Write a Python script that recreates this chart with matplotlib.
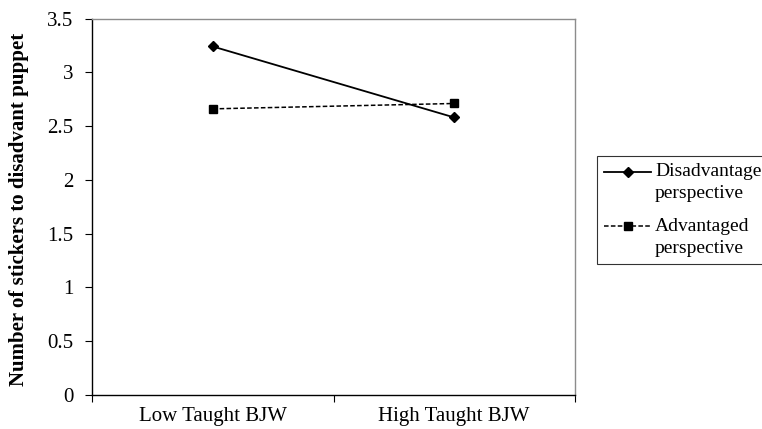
import numpy as np
import matplotlib.pyplot as plt
from matplotlib.legend_handler import HandlerLine2D

# Data
conditions = ['Low Taught BJW', 'High Taught BJW']
disadvantaged = [3.24, 2.58]
advantaged = [2.66, 2.71]
series_labels = ['Disadvantaged\nperspective', 'Advantaged\nperspective']
y_ticks = [0, 0.5, 1, 1.5, 2, 2.5, 3, 3.5]


class FirstLineHandler(HandlerLine2D):
    # put the legend sample level with the first line of a two-line label
    def __init__(self, shift, **kw):
        super().__init__(**kw)
        self.shift = shift

    def create_artists(self, legend, orig_handle, xdescent, ydescent,
                       width, height, fontsize, trans):
        artists = super().create_artists(legend, orig_handle, xdescent, ydescent,
                                         width, height, fontsize, trans)
        for a in artists:
            a.set_ydata(np.asarray(a.get_ydata()) + self.shift)
        return artists


plt.rcParams['font.family'] = ['Liberation Serif', 'DejaVu Serif']

fig = plt.figure(figsize=(7.62, 4.29), dpi=100)
ax = fig.add_axes([92 / 762, 1 - 395 / 429, (575 - 92) / 762, (395 - 18.5) / 429])

x = [0.5, 1.5]
l1, = ax.plot(x, disadvantaged, color='black', linestyle='-', linewidth=1.3,
              marker='D', markersize=5, label=series_labels[0])
l2, = ax.plot(x, advantaged, color='black', linestyle=(0, (3, 1.5)), linewidth=1.1,
              marker='s', markersize=6, label=series_labels[1])

ax.set_xlim(0, 2)
ax.set_ylim(0, 3.5)
ax.set_yticks(y_ticks)
ax.set_yticklabels(['0', '0.5', '1', '1.5', '2', '2.5', '3', '3.5'], fontsize=15)
ax.set_xticks([0, 1, 2])
ax.set_xticklabels([])
ax.set_xticks(x, minor=True)
ax.set_xticklabels(conditions, minor=True, fontsize=15)
ax.tick_params(axis='x', which='minor', length=0, pad=9)
ax.tick_params(axis='x', which='major', direction='out', length=5, color='black')
ax.tick_params(axis='y', direction='out', length=5, color='black', pad=8.5)

for side in ['top', 'right']:
    ax.spines[side].set_color('#8c8c8c')
    ax.spines[side].set_linewidth(1.0)
for side in ['left', 'bottom']:
    ax.spines[side].set_color('black')
    ax.spines[side].set_linewidth(1.0)

ax.set_ylabel('Number of stickers to disadvant puppet', fontsize=15, fontweight='bold')
ax.yaxis.set_label_coords(-0.13, 0.494)

shift = 7.9  # points, half the label line pitch
leg = fig.legend(handles=[l1, l2], loc='upper left',
                 bbox_to_anchor=(597 / 762, 1 - 156 / 429),
                 fontsize=14, frameon=True, fancybox=False, handlelength=2.4,
                 handletextpad=0.2, borderpad=0.38, labelspacing=0.8,
                 borderaxespad=0,
                 handler_map={l1: FirstLineHandler(shift), l2: FirstLineHandler(shift)})
leg.get_frame().set_edgecolor('black')
leg.get_frame().set_linewidth(0.8)
for t in leg.get_texts():
    t.set_linespacing(1.38)

fig.savefig('out.png', dpi=100)
